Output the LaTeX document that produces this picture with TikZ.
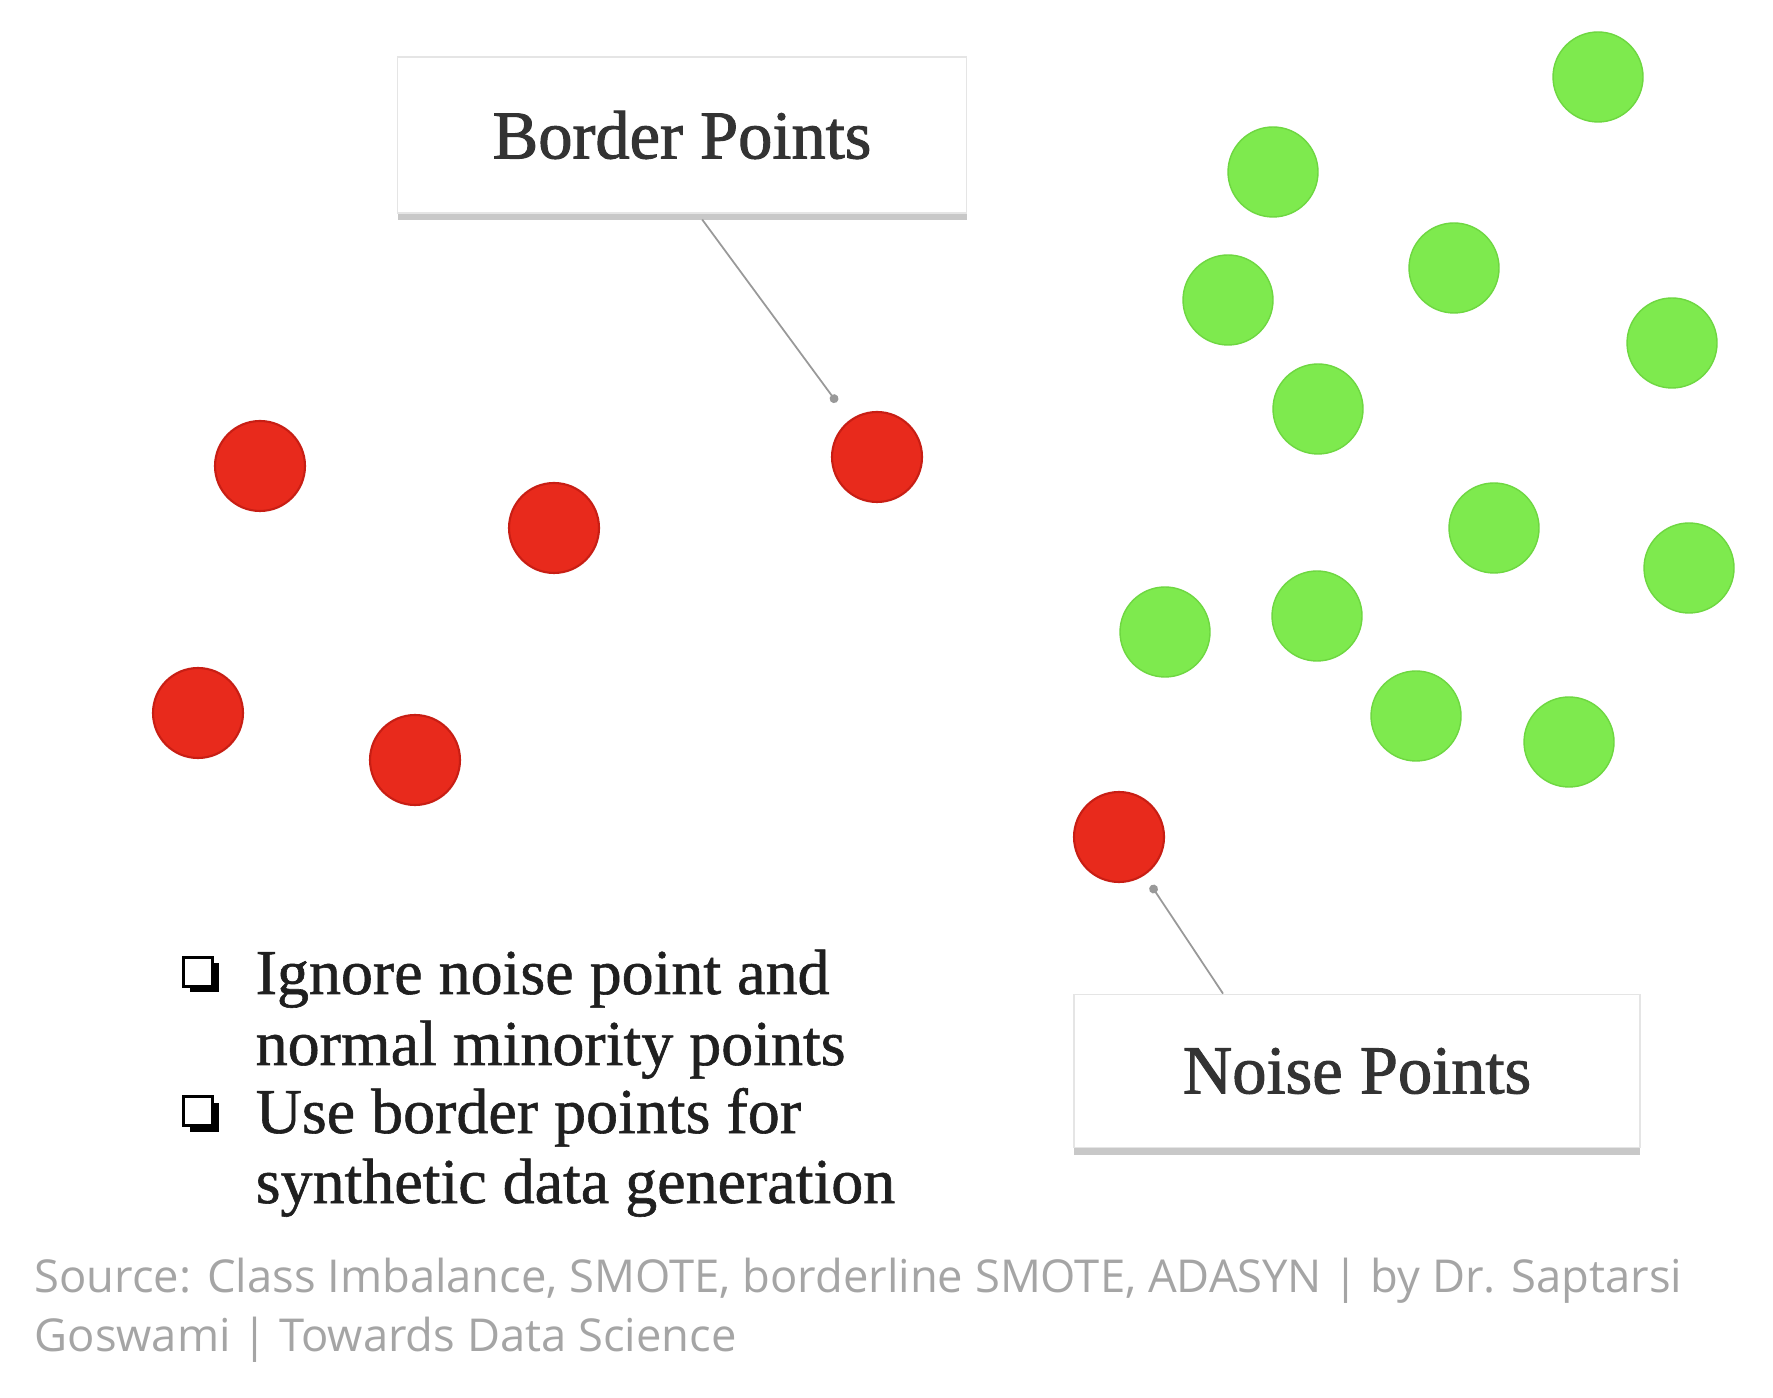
\documentclass[tikz,border=0pt]{standalone}
\usepackage{fontspec}
\setmainfont{Liberation Serif}
\newfontfamily\labelfont{Liberation Serif}[FakeBold=1.4]
\newfontfamily\bulletfont{Liberation Serif}[FakeBold=0.9]
\newfontfamily\srcfont{Open Sans}
\usetikzlibrary{shadows,arrows.meta}
\definecolor{ptred}{RGB}{232,42,28}
\definecolor{ptredd}{RGB}{200,30,20}
\definecolor{ptgreen}{RGB}{126,234,78}
\definecolor{ptgreend}{RGB}{110,215,65}
\definecolor{srcgray}{RGB}{165,165,165}
\tikzset{
  redpt/.style={circle, minimum size=0.9cm, inner sep=0pt, fill=ptred, draw=ptredd, line width=0.6pt},
  greenpt/.style={circle, minimum size=0.9cm, inner sep=0pt, fill=ptgreen, draw=ptgreend, line width=0.4pt},
  labelbox/.style={rectangle, fill=white, draw=black!10, line width=0.5pt,
    drop shadow={shadow xshift=0pt, shadow yshift=-0.07cm, opacity=0.3, fill=black!70},
    font=\labelfont\fontsize{19.5}{22}\selectfont, text=black!80},
  conn/.style={draw=black!40, line width=0.5pt, -{Circle[length=2.5pt]}},
  chkbox/.style={rectangle, minimum size=0.29cm, inner sep=0pt, fill=white, draw=black, line width=0.7pt,
    drop shadow={shadow xshift=0.06cm, shadow yshift=-0.06cm, opacity=1, fill=black}},
  bultext/.style={anchor=base west, inner sep=0pt, font=\bulletfont\fontsize{18.2}{20}\selectfont, text=black!88},
  srctext/.style={anchor=base west, inner sep=0pt, font=\srcfont\fontsize{12.9}{15}\selectfont, text=srcgray}
}
\begin{document}
\begin{tikzpicture}
\useasboundingbox[fill=white] (0,0) rectangle (17.73,13.97);
% red points
\node[redpt] (r1) at (2.60,9.31) {};
\node[redpt] (r2) at (5.54,8.69) {};
\node[redpt] (r3) at (8.77,9.40) {};
\node[redpt] (r4) at (1.98,6.84) {};
\node[redpt] (r5) at (4.15,6.37) {};
\node[redpt] (r6) at (11.19,5.60) {};
% green points
\node[greenpt] (g1) at (15.98,13.20) {};
\node[greenpt] (g2) at (12.73,12.25) {};
\node[greenpt] (g3) at (14.54,11.29) {};
\node[greenpt] (g4) at (12.28,10.97) {};
\node[greenpt] (g5) at (16.72,10.54) {};
\node[greenpt] (g6) at (13.18,9.88) {};
\node[greenpt] (g7) at (14.94,8.69) {};
\node[greenpt] (g8) at (16.89,8.29) {};
\node[greenpt] (g9) at (11.65,7.65) {};
\node[greenpt] (g10) at (13.17,7.81) {};
\node[greenpt] (g11) at (14.16,6.81) {};
\node[greenpt] (g12) at (15.69,6.55) {};
% label boxes
\node[labelbox, minimum width=5.69cm, minimum height=1.56cm] (bp) at (6.82,12.62) {Border Points};
\node[labelbox, minimum width=5.66cm, minimum height=1.53cm] (np) at (13.57,3.26) {Noise Points};
% connectors
\draw[conn, shorten <=0.07cm, shorten >=0.22cm] ([xshift=0.16cm]bp.south) -- (r3);
\draw[conn, shorten >=0.12cm] ([xshift=-1.34cm]np.north) -- (r6);
% bullets
\node[chkbox] (c1) at (1.98,4.25) {};
\node[chkbox] (c2) at (1.98,2.86) {};
\node[bultext] (t1) at (2.55,4.03) {Ignore noise point and};
\node[bultext] (t2) at (2.55,3.32) {normal minority points};
\node[bultext] (t3) at (2.55,2.64) {Use border points for};
\node[bultext] (t4) at (2.55,1.94) {synthetic data generation};
% source
\node[srctext] (s1) at (0.34,1.05) {Source: Class Imbalance, SMOTE, borderline SMOTE, ADASYN | by Dr. Saptarsi};
\node[srctext] (s2) at (0.34,0.46) {Goswami | Towards Data Science};
\end{tikzpicture}
\end{document}
